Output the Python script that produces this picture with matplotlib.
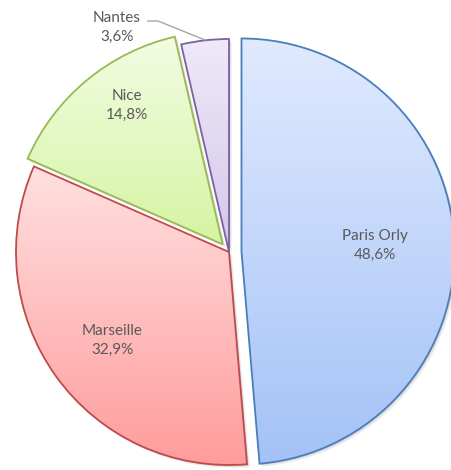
import numpy as np
import matplotlib.pyplot as plt
from matplotlib.patches import Wedge
from matplotlib.colors import to_rgb

airports = ["Paris Orly", "Marseille", "Nice", "Nantes"]
shares = [48.6, 32.9, 14.8, 3.6]
pct_labels = ["48,6%", "32,9%", "14,8%", "3,6%"]
offsets = [12.5, 0, 10, 0]   # how far each slice is pulled out (px)

edge_colors = ["#4a7ebb", "#be4b48", "#98b954", "#7d60a0"]
top_colors = ["#e0eafe", "#ffe0e0", "#f2fce3", "#efe9f8"]
bottom_colors = ["#a4c2f7", "#ff9c9c", "#d5f4a2", "#d3c6ea"]

W, H = 451, 470

fig = plt.figure(figsize=(W / 100, H / 100), dpi=100)
ax = fig.add_axes([0, 0, 1, 1])

# explode is in data units here (pixels), pie doesn't scale it by radius
wedges, _ = ax.pie(shares, startangle=90, counterclock=False,
                   center=(229, 218), radius=213, explode=offsets,
                   frame=True)

for w, ec, c_top, c_bot in zip(wedges, edge_colors, top_colors, bottom_colors):
    # soft shadow down/right
    for k, a in [(3, 0.10), (2, 0.15), (1, 0.2)]:
        sh = Wedge((w.center[0] + k, w.center[1] - k), w.r, w.theta1, w.theta2,
                   facecolor="#808080", edgecolor="none", alpha=a, zorder=1)
        ax.add_patch(sh)

    ext = w.get_path().get_extents()
    t = np.linspace(0, 1, 256)[:, None]
    top = np.array(to_rgb(c_top))
    bot = np.array(to_rgb(c_bot))
    grad = (top * (1 - t) + bot * t)[:, None, :]
    im = ax.imshow(grad, extent=(ext.x0, ext.x1, ext.y0, ext.y1),
                   origin="upper", aspect="auto", zorder=2, interpolation="bilinear")
    im.set_clip_path(w)
    w.set_facecolor("none")
    w.set_edgecolor(ec)
    w.set_linewidth(1.3)
    w.set_zorder(3)

# label positions in image pixels (x, y from top)
label_pos = [(375, 245), (112, 340), (127, 105), (117, 27)]
for name, pct, (x, y) in zip(airports, pct_labels, label_pos):
    ax.text(x, H - y, name + "\n" + pct, ha="center", va="center",
            fontsize=11, color="#595959", family="Lato", linespacing=1.45,
            zorder=5)

# leader line for Nantes
ax.plot([148, 158, 205], [H - 21, H - 21, H - 40], color="#a6a6a6", lw=1, zorder=4)

ax.set_xlim(0, W)
ax.set_ylim(0, H)
ax.set_aspect("equal")
ax.axis("off")

fig.savefig("out.png", dpi=100, facecolor="white")
